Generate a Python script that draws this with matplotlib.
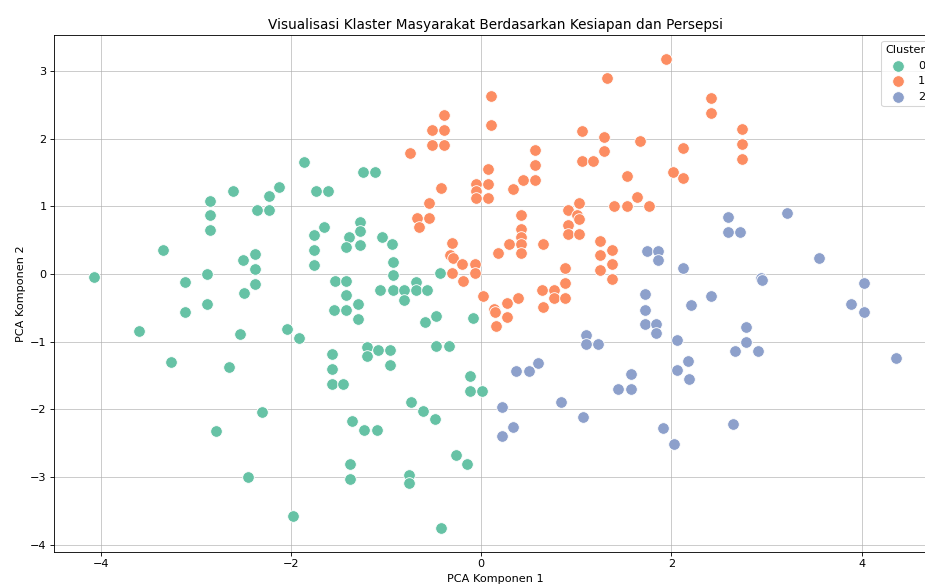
import matplotlib.pyplot as plt

# cluster 0 (green)
pc1_c0 = [-4.07, -3.34, -3.11, -2.88, -2.85, -2.85, -2.85, -2.61, -2.50, -2.38, -2.38, -2.38, -2.49,
          -2.36, -2.23, -2.23, -2.12, -1.86, -1.74, -1.61, -1.24, -1.12, -1.65, -1.76, -1.76, -1.76,
          -1.27, -1.27, -1.39, -1.42, -1.27, -1.04, -0.94, -0.93, -0.93, -0.43, -1.54, -1.42, -1.42,
          -1.06, -0.93, -0.81, -0.69, -0.69, -0.57, -3.60, -3.11, -2.88, -2.53, -3.26, -2.65, -2.30,
          -2.79, -2.45, -1.55, -1.42, -1.30, -1.30, -0.81, -0.59, -0.47, -0.09, -2.04, -1.92, -1.57,
          -1.57, -1.57, -1.45, -1.20, -1.20, -1.08, -0.96, -0.96, -0.47, -0.34, -0.12, -0.12, 0.01,
          -0.74, -0.61, -0.49, -1.36, -1.23, -1.10, -1.38, -1.38, -0.76, -0.76, -0.27, -0.15, -1.98,
          -0.42]
pc2_c0 = [-0.05, 0.36, -0.12, 0.00, 1.08, 0.87, 0.65, 1.22, 0.20, 0.29, 0.07, -0.15, -0.28,
          0.94, 0.94, 1.15, 1.28, 1.65, 1.22, 1.22, 1.50, 1.50, 0.70, 0.57, 0.35, 0.13,
          0.77, 0.63, 0.55, 0.39, 0.42, 0.55, 0.44, 0.18, -0.02, 0.02, -0.10, -0.10, -0.31,
          -0.24, -0.24, -0.24, -0.12, -0.24, -0.24, -0.85, -0.57, -0.44, -0.89, -1.30, -1.37, -2.04,
          -2.32, -3.00, -0.54, -0.54, -0.45, -0.67, -0.38, -0.71, -0.62, -0.65, -0.82, -0.95, -1.18,
          -1.40, -1.62, -1.62, -1.08, -1.21, -1.12, -1.12, -1.34, -1.06, -1.06, -1.51, -1.73, -1.73,
          -1.89, -2.02, -2.14, -2.17, -2.30, -2.30, -2.81, -3.03, -2.97, -3.09, -2.68, -2.81, -3.58,
          -3.76]

# cluster 1 (orange)
pc1_c1 = [0.10, 0.10, -0.39, -0.52, -0.39, -0.52, -0.39, -0.75, 0.07, -0.05, 0.07, -0.05, -0.05,
          0.07, -0.42, -0.55, -0.67, -0.55, -0.65, -0.31, -0.33, -0.30, -0.20, -0.07, -0.31, -0.07,
          -0.19, 0.02, 1.94, 1.32, 2.41, 2.41, 1.06, 1.29, 1.67, 1.29, 1.06, 1.18, 2.12, 2.02, 2.12,
          1.53, 0.57, 0.57, 0.57, 0.44, 0.33, 1.64, 1.40, 1.53, 1.76, 1.03, 0.91, 1.01, 1.03, 0.91,
          0.91, 1.03, 0.42, 0.42, 0.42, 0.42, 0.42, 0.29, 0.18, 0.65, 1.25, 1.37, 1.25, 1.37, 1.25,
          1.37, 0.88, 0.88, 0.64, 0.76, 0.76, 0.88, 0.65, 2.74, 2.74, 2.74, 0.27, 0.27, 0.16, 0.39,
          0.13, 0.15]
pc2_c1 = [2.63, 2.20, 2.35, 2.13, 2.13, 1.91, 1.91, 1.78, 1.55, 1.33, 1.33, 1.22, 1.12,
          1.12, 1.27, 1.04, 0.83, 0.83, 0.69, 0.46, 0.28, 0.24, 0.15, 0.15, 0.02, 0.02,
          -0.10, -0.33, 3.18, 2.89, 2.60, 2.37, 2.11, 2.03, 1.96, 1.81, 1.67, 1.67, 1.86, 1.51, 1.41,
          1.44, 1.83, 1.61, 1.39, 1.39, 1.26, 1.13, 1.00, 1.00, 1.00, 1.04, 0.95, 0.87, 0.81, 0.72,
          0.59, 0.59, 0.87, 0.66, 0.55, 0.44, 0.31, 0.44, 0.31, 0.44, 0.49, 0.36, 0.28, 0.14, 0.05,
          -0.08, 0.08, -0.14, -0.24, -0.24, -0.36, -0.36, -0.49, 2.14, 1.92, 1.70, -0.43, -0.64, -0.77, -0.36,
          -0.52, -0.56]

# cluster 2 (blue)
pc1_c2 = [1.74, 1.86, 1.86, 2.12, 1.72, 1.72, 1.72, 1.84, 1.84, 2.21, 2.42, 2.06, 2.17, 2.06, 2.18,
          1.91, 2.03, 1.10, 1.10, 1.23, 0.60, 0.37, 0.50, 1.57, 1.44, 1.57, 0.84, 1.07, 0.22, 0.33,
          0.22, 2.59, 2.59, 2.72, 3.21, 3.55, 2.94, 2.95, 4.02, 2.78, 2.78, 2.67, 2.91, 2.65, 3.89,
          4.02, 4.36]
pc2_c2 = [0.34, 0.34, 0.20, 0.08, -0.30, -0.53, -0.74, -0.74, -0.88, -0.46, -0.33, -0.98, -1.29, -1.42, -1.55,
          -2.28, -2.51, -0.90, -1.03, -1.03, -1.31, -1.44, -1.44, -1.48, -1.70, -1.70, -1.90, -2.12, -1.96, -2.27,
          -2.40, 0.84, 0.62, 0.62, 0.90, 0.23, -0.06, -0.09, -0.13, -0.79, -1.01, -1.14, -1.14, -2.22, -0.44,
          -0.57, -1.24]

cluster_labels = ['0', '1', '2']
cluster_colors = ['#66c2a5', '#fc8d62', '#8da0cb']

fig = plt.figure(figsize=(925 / 77, 587 / 77), dpi=77)
ax = fig.add_axes([54 / 925, 35 / 587, 882 / 925, 517 / 587])

for xs, ys, lab, col in zip([pc1_c0, pc1_c1, pc1_c2], [pc2_c0, pc2_c1, pc2_c2], cluster_labels, cluster_colors):
    ax.scatter(xs, ys, s=118, color=col, edgecolor='white', linewidth=0.8, label=lab, zorder=3)

ax.set_xlim(-4.49, 4.78)
ax.set_ylim(-4.11, 3.53)
ax.set_xticks([-4, -2, 0, 2, 4])
ax.set_yticks([-4, -3, -2, -1, 0, 1, 2, 3])
ax.tick_params(labelsize=10.5)
ax.grid(True, alpha=0.75)
ax.set_axisbelow(True)

ax.set_title("Visualisasi Klaster Masyarakat Berdasarkan Kesiapan dan Persepsi", fontsize=12.8)
ax.set_xlabel("PCA Komponen 1", fontsize=10.5)
ax.set_ylabel("PCA Komponen 2", fontsize=10.5)
ax.legend(title="Cluster", loc='upper right', fontsize=10.5, title_fontsize=10.5)

fig.savefig("out.png", dpi=77)
